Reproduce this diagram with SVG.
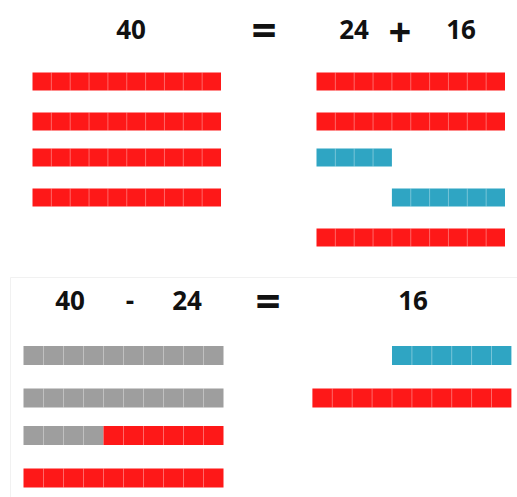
<svg xmlns="http://www.w3.org/2000/svg" width="517" height="497" viewBox="0 0 517 497">
<style>
text{font-family:"Open Sans","Liberation Sans",sans-serif;font-weight:bold;fill:#111;text-anchor:middle}
.num{font-size:26px}
.eq{font-size:44px}
.plus{font-size:40px}
.r{fill:#fe1818}
.c{fill:#2fa5c3}
.g{fill:#9e9e9e}
.sep{stroke:#ffffff;stroke-opacity:0.35;stroke-width:1;fill:none}
</style>
<rect width="517" height="497" fill="#ffffff"/>
<path d="M10.5,497 V277.5 H517" fill="none" stroke="#f1f1f1" stroke-width="1"/>

<g id="top-equation">
<text class="num" x="131" y="39">40</text>
<text class="eq" x="264" y="46">=</text>
<text class="num" x="354" y="39">24</text>
<text class="plus" x="400" y="46">+</text>
<text class="num" x="461" y="39">16</text>
</g>

<g id="top-left-40">
<rect class="r" x="32.5" y="72.5" width="188.5" height="18"/>
<rect class="r" x="32.5" y="112.5" width="188.5" height="18"/>
<rect class="r" x="32.5" y="148.5" width="188.5" height="18"/>
<rect class="r" x="32.5" y="188.5" width="188.5" height="18"/>
<path class="sep" d="M51.35,72.5v18M70.2,72.5v18M89.05,72.5v18M107.9,72.5v18M126.75,72.5v18M145.6,72.5v18M164.45,72.5v18M183.3,72.5v18M202.15,72.5v18
M51.35,112.5v18M70.2,112.5v18M89.05,112.5v18M107.9,112.5v18M126.75,112.5v18M145.6,112.5v18M164.45,112.5v18M183.3,112.5v18M202.15,112.5v18
M51.35,148.5v18M70.2,148.5v18M89.05,148.5v18M107.9,148.5v18M126.75,148.5v18M145.6,148.5v18M164.45,148.5v18M183.3,148.5v18M202.15,148.5v18
M51.35,188.5v18M70.2,188.5v18M89.05,188.5v18M107.9,188.5v18M126.75,188.5v18M145.6,188.5v18M164.45,188.5v18M183.3,188.5v18M202.15,188.5v18"/>
</g>

<g id="top-right-24-plus-16">
<rect class="r" x="316.5" y="72.5" width="188.5" height="18"/>
<rect class="r" x="316.5" y="112.5" width="188.5" height="18"/>
<rect class="c" x="316.5" y="148.5" width="75.4" height="18"/>
<rect class="c" x="391.9" y="188.5" width="113.1" height="18"/>
<rect class="r" x="316.5" y="228.5" width="188.5" height="18"/>
<path class="sep" d="M335.35,72.5v18M354.2,72.5v18M373.05,72.5v18M391.9,72.5v18M410.75,72.5v18M429.6,72.5v18M448.45,72.5v18M467.3,72.5v18M486.15,72.5v18
M335.35,112.5v18M354.2,112.5v18M373.05,112.5v18M391.9,112.5v18M410.75,112.5v18M429.6,112.5v18M448.45,112.5v18M467.3,112.5v18M486.15,112.5v18
M335.35,148.5v18M354.2,148.5v18M373.05,148.5v18
M410.75,188.5v18M429.6,188.5v18M448.45,188.5v18M467.3,188.5v18M486.15,188.5v18
M335.35,228.5v18M354.2,228.5v18M373.05,228.5v18M391.9,228.5v18M410.75,228.5v18M429.6,228.5v18M448.45,228.5v18M467.3,228.5v18M486.15,228.5v18"/>
</g>

<g id="bottom-equation">
<text class="num" x="70" y="310">40</text>
<text class="num" x="130" y="310">-</text>
<text class="num" x="187" y="310">24</text>
<text class="eq" x="268" y="317">=</text>
<text class="num" x="413" y="310">16</text>
</g>

<g id="bottom-left-40-minus-24">
<rect class="g" x="23.5" y="346" width="200" height="19"/>
<rect class="g" x="23.5" y="388.5" width="200" height="19"/>
<rect class="g" x="23.5" y="426" width="80" height="19"/>
<rect class="r" x="103.5" y="426" width="120" height="19"/>
<rect class="r" x="23.5" y="468.5" width="200" height="19"/>
<path class="sep" d="M43.5,346v19M63.5,346v19M83.5,346v19M103.5,346v19M123.5,346v19M143.5,346v19M163.5,346v19M183.5,346v19M203.5,346v19
M43.5,388.5v19M63.5,388.5v19M83.5,388.5v19M103.5,388.5v19M123.5,388.5v19M143.5,388.5v19M163.5,388.5v19M183.5,388.5v19M203.5,388.5v19
M43.5,426v19M63.5,426v19M83.5,426v19M123.5,426v19M143.5,426v19M163.5,426v19M183.5,426v19M203.5,426v19
M43.5,468.5v19M63.5,468.5v19M83.5,468.5v19M103.5,468.5v19M123.5,468.5v19M143.5,468.5v19M163.5,468.5v19M183.5,468.5v19M203.5,468.5v19"/>
</g>

<g id="bottom-right-16">
<rect class="c" x="392" y="346" width="119.4" height="19"/>
<rect class="r" x="312.4" y="388.5" width="199" height="19"/>
<path class="sep" d="M411.9,346v19M431.8,346v19M451.7,346v19M471.6,346v19M491.5,346v19
M332.3,388.5v19M352.2,388.5v19M372.1,388.5v19M392,388.5v19M411.9,388.5v19M431.8,388.5v19M451.7,388.5v19M471.6,388.5v19M491.5,388.5v19"/>
</g>
</svg>
